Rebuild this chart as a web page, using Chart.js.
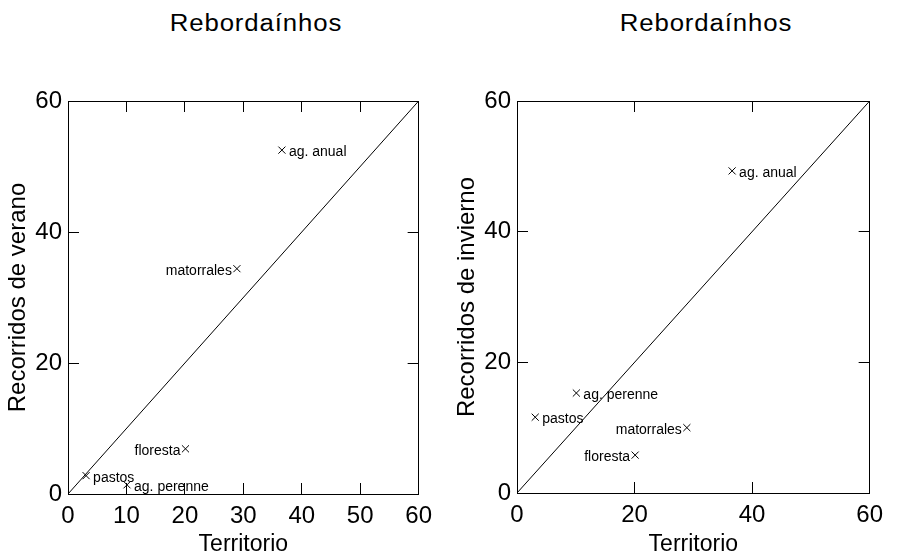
<!DOCTYPE html>
<html>
<head>
<meta charset="utf-8">
<script src="https://cdn.jsdelivr.net/npm/chart.js@4.4.0/dist/chart.umd.min.js"></script>
<style>
  body { margin: 0; background: #fff; }
  #wrap { position: relative; width: 902px; height: 558px; }
  .panel { position: absolute; top: 0; width: 451px; height: 558px; }
  .title {
    position: absolute; top: 12px; width: 300px; text-align: center;
    font: 23px 'Liberation Sans', Arial, sans-serif; line-height: 23px;
    letter-spacing: 0.8px; transform: scaleX(1.12); white-space: nowrap; color: #000;
  }
</style>
</head>
<body>
<div id="wrap">
  <div class="title" style="left:106px">Rebordaínhos</div>
  <div class="title" style="left:556px">Rebordaínhos</div>
  <canvas id="verano" class="panel" style="left:0" width="451" height="558"></canvas>
  <canvas id="invierno" class="panel" style="left:451px" width="451" height="558"></canvas>
</div>
<script>
// valores
const categories = ['pastos', 'ag. perenne', 'floresta', 'matorrales', 'ag. anual'];
const territorio = [3.1, 10.1, 20.1, 28.9, 36.6];
const verano = [2.8, 1.4, 6.9, 34.4, 52.5];
const invierno = [11.6, 15.3, 5.8, 10.0, 49.3];
const diagonal = [0, 60];
const xTicksVerano = [0, 10, 20, 30, 40, 50, 60];
const xTicksInvierno = [0, 20, 40, 60];
const yTicks = [0, 20, 40, 60];
const labelSide = ['right', 'right', 'left', 'left', 'right'];

Chart.defaults.font.family = "'Liberation Sans', Arial, sans-serif";
Chart.defaults.color = '#000';

const pointLabels = {
  id: 'pointLabels',
  afterDatasetsDraw(chart) {
    const meta = chart.getDatasetMeta(1);
    const ctx = chart.ctx;
    ctx.save();
    ctx.font = "14px 'Liberation Sans', Arial, sans-serif";
    ctx.fillStyle = '#000';
    ctx.textBaseline = 'middle';
    meta.data.forEach(function(pt, i) {
      const right = labelSide[i] === 'right';
      ctx.textAlign = right ? 'left' : 'right';
      ctx.fillText(categories[i], pt.x + (right ? 7 : -5), pt.y + 2);
    });
    ctx.restore();
  }
};

function tickSet(values) {
  return function(scale) { scale.ticks = values.map(v => ({ value: v })); };
}

function makeChart(id, yValues, xTicks, yTitle, opts) {
  const grid = { drawOnChartArea: false, drawTicks: true, tickLength: -11, color: '#000', lineWidth: 1 };
  const border = { display: true, color: '#000', width: 1 };
  new Chart(document.getElementById(id), {
    type: 'scatter',
    data: {
      datasets: [{
        data: diagonal.map(v => ({ x: v, y: v })),
        showLine: true,
        pointRadius: 0,
        borderColor: '#000',
        borderWidth: 1
      }, {
        data: territorio.map((x, i) => ({ x: x, y: yValues[i] })),
        pointStyle: 'crossRot',
        pointRadius: 5,
        borderColor: '#000',
        backgroundColor: '#000',
        borderWidth: 1
      }]
    },
    options: {
      responsive: false,
      animation: false,
      layout: { padding: { top: 101, right: opts.right, left: 0, bottom: 0 } },
      plugins: { legend: { display: false }, tooltip: { enabled: false } },
      scales: {
        x: {
          type: 'linear', position: 'bottom', min: 0, max: 60,
          afterBuildTicks: tickSet(xTicks),
          afterFit: s => { s.height = opts.bottom; },
          grid: grid, border: border,
          ticks: { padding: 19, font: { size: 24 }, maxRotation: 0, autoSkip: false },
          title: { display: true, text: 'Territorio', font: { size: 23 }, padding: { top: 0, bottom: 0 } }
        },
        x2: {
          type: 'linear', position: 'top', min: 0, max: 60,
          afterBuildTicks: tickSet(xTicks),
          afterFit: s => { s.height = 0; },
          grid: grid, border: border,
          ticks: { display: false }
        },
        y: {
          type: 'linear', position: 'left', min: 0, max: 60,
          afterBuildTicks: tickSet(yTicks),
          afterFit: s => { s.width = opts.left; },
          grid: grid, border: border,
          ticks: { padding: 17, font: { size: 24 }, autoSkip: false },
          title: { display: true, text: yTitle, font: { size: 24 }, padding: { top: opts.titlePad, bottom: 0 } }
        },
        y2: {
          type: 'linear', position: 'right', min: 0, max: 60,
          afterBuildTicks: tickSet(yTicks),
          afterFit: s => { s.width = 0; },
          grid: grid, border: border,
          ticks: { display: false }
        }
      }
    },
    plugins: [pointLabels]
  });
}

makeChart('verano', verano, xTicksVerano, 'Recorridos de verano',
  { left: 68, right: 13, bottom: 64, titlePad: 4.3 });
makeChart('invierno', invierno, xTicksInvierno, 'Recorridos de invierno',
  { left: 66, right: 16, bottom: 65, titlePad: 2.3 });
</script>
</body>
</html>
